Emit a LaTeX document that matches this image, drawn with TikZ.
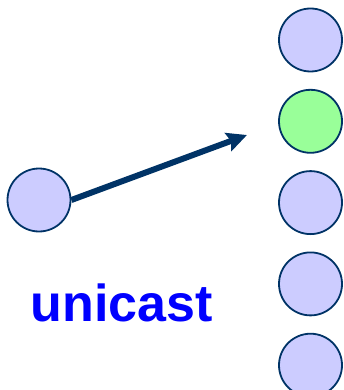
\documentclass[tikz,border=0pt]{standalone}
\usepackage{fontspec}
\setsansfont{Liberation Sans}
\usetikzlibrary{positioning}
\usetikzlibrary{arrows.meta}
\tikzset{>={Stealth[length=20pt,width=19pt,inset=3pt]}}
\colorlet{background}{white}
\definecolor{penColor}{RGB}{0,51,102}
\definecolor{hostColor}{RGB}{204,204,255}
\definecolor{destColor}{RGB}{153,255,153}
\tikzset{
  host/.style={circle,draw=penColor,line width=1.8pt,fill=hostColor,minimum size=63pt,inner sep=0pt},
  dest/.style={host,fill=destColor}
}

\begin{document}
\begin{tikzpicture}[x=1pt,y=-1pt]
				\useasboundingbox (0,0) rectangle (344,390);
				% sender
				\node [host] (src) at (39,200) {};
				% receivers
				\node [host] (r1) at (310.5,40) {};
				\node [dest,below=16.5pt of r1] (r2) {};
				\node [host,below=16.5pt of r2] (r3) {};
				\node [host,below=16.5pt of r3] (r4) {};
				\node [host,below=16.5pt of r4] (r5) {};
				\coordinate (tip) at (247,135);
				\draw [->,penColor,line width=6pt] (src.east) -- (tip);
				
				\node [anchor=base,text=blue,font=\sffamily\bfseries\fontsize{52}{56}\selectfont] (cast) at (121.5,321) {unicast};
				\end{tikzpicture}
\end{document}
